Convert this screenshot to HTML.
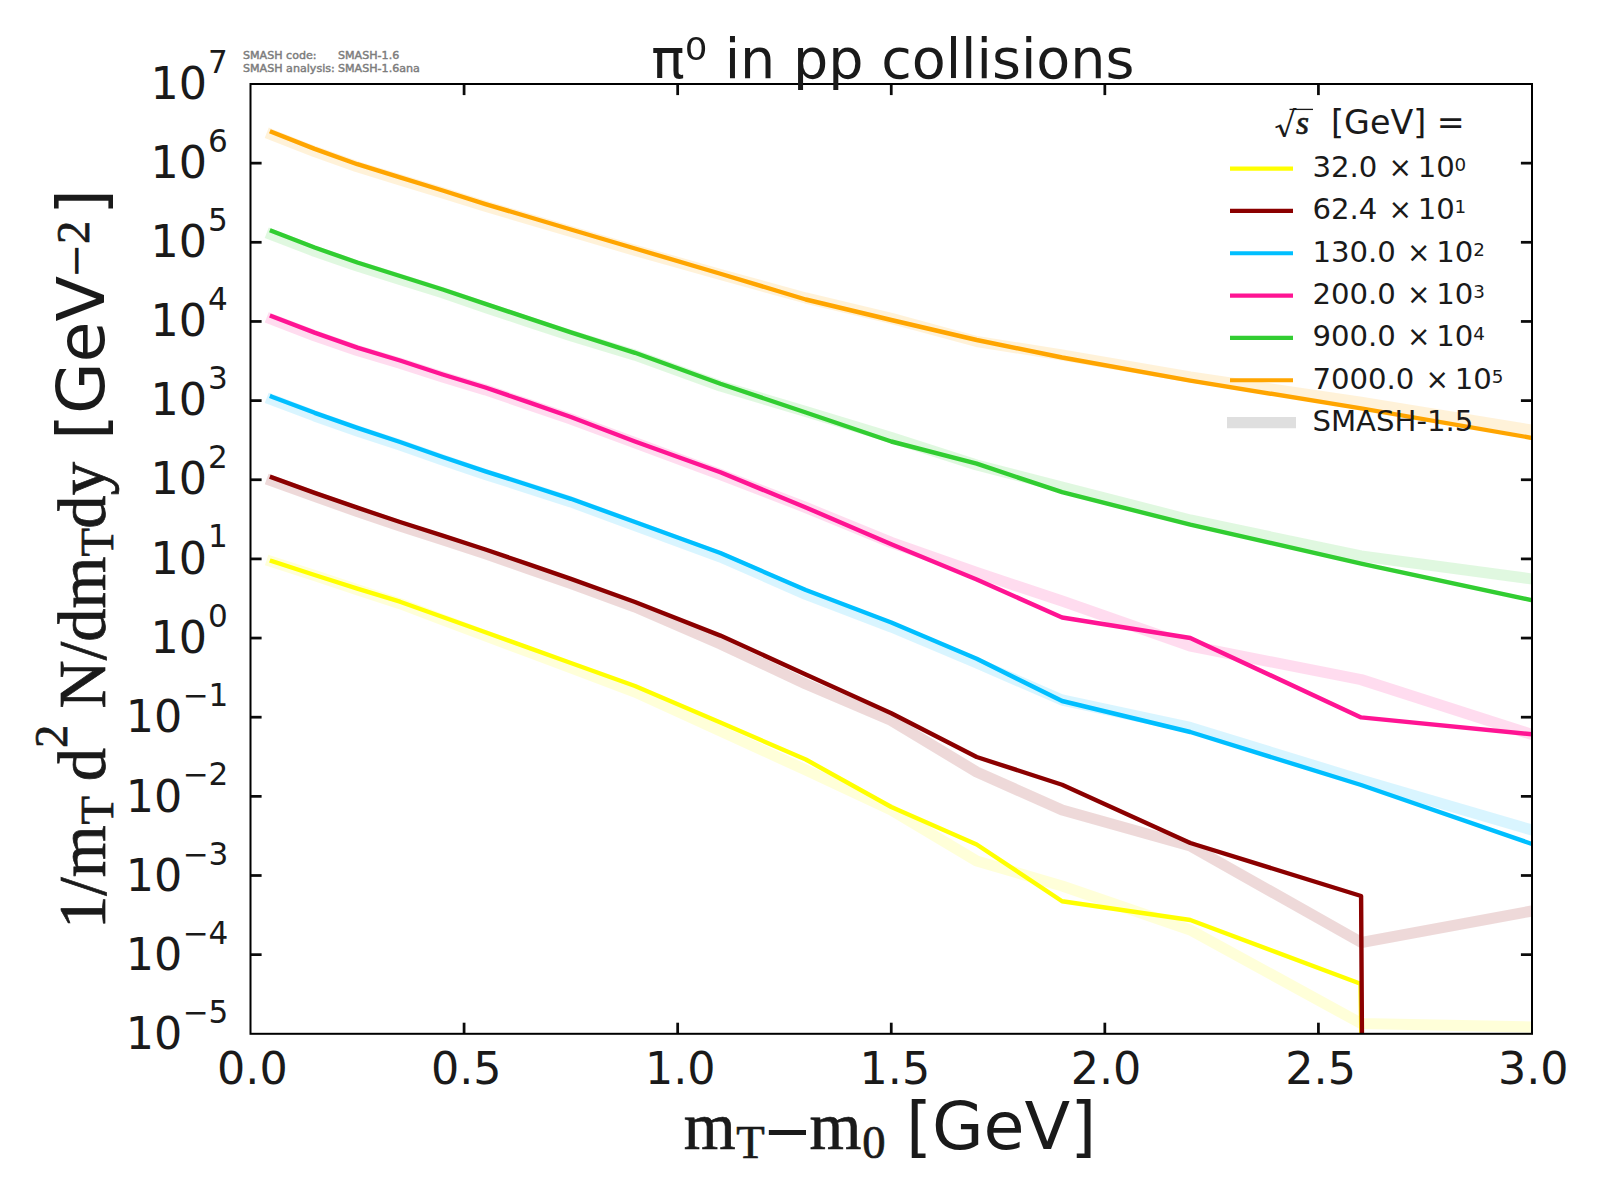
<!DOCTYPE html>
<html><head><meta charset="utf-8"><title>pi0 in pp collisions</title>
<style>
html,body{margin:0;padding:0;background:#fff;}
svg{display:block;}
text{font-family:"DejaVu Sans","Liberation Sans",sans-serif;fill:#1a1a1a;}
.m{font-family:"Liberation Serif","DejaVu Serif",serif;stroke:#1a1a1a;stroke-width:0.7px;}
.rad{font-family:"DejaVu Math TeX Gyre","DejaVu Serif","DejaVu Sans",serif;}
text{font-kerning:none;}
</style></head><body>
<svg width="1600" height="1200" viewBox="0 0 1600 1200">
<rect width="1600" height="1200" fill="#fff"/>
<defs><clipPath id="ax"><rect x="250.50" y="84.00" width="1281.50" height="949.80"/></clipPath></defs>

<g clip-path="url(#ax)" fill="none" stroke-linejoin="round" stroke-linecap="square">
<polyline points="271.90,561.20 314.60,575.00 357.30,588.60 400.00,601.70 442.70,617.00 485.40,632.30 528.20,647.60 570.90,663.00 635.00,686.00 720.40,722.50 805.80,759.50 891.30,807.00 976.70,844.50 1062.10,901.25 1190.30,920.00 1360.50,983.75 1361.50,1045.00" stroke="#ffff00" stroke-width="4.4"/>
<polyline points="271.90,561.70 314.60,575.50 357.30,589.83 400.00,603.67 442.70,619.70 485.40,635.73 528.20,651.77 570.90,667.90 635.00,692.00 720.40,731.00 805.80,770.00 891.30,810.00 976.70,861.00 1062.10,886.00 1190.30,930.00 1361.10,1023.50 1532.00,1027.00" stroke="#ffff00" stroke-opacity="0.15" stroke-width="11.1"/>
<polyline points="271.90,477.40 314.60,492.90 357.30,507.70 400.00,522.00 442.70,535.70 485.40,549.50 528.20,564.20 570.90,578.90 635.00,602.00 720.40,635.60 805.80,674.40 891.30,713.30 976.70,757.00 1062.10,784.75 1190.30,843.00 1361.10,896.00 1362.00,1045.00" stroke="#8b0000" stroke-width="4.4"/>
<polyline points="271.90,480.90 314.60,496.40 357.30,511.40 400.00,525.90 442.70,539.80 485.40,553.80 528.20,568.70 570.90,583.60 635.00,607.00 720.40,644.00 805.80,684.00 891.30,720.50 976.70,772.00 1062.10,810.00 1190.30,846.00 1361.50,942.50 1532.00,911.00" stroke="#8b0000" stroke-opacity="0.15" stroke-width="11.1"/>
<polyline points="271.90,396.70 314.60,412.80 357.30,427.80 400.00,442.00 442.70,457.00 485.40,471.30 528.20,485.00 570.90,498.80 635.00,522.00 720.40,553.00 805.80,590.00 891.30,622.50 976.70,658.75 1062.10,701.00 1190.30,732.00 1361.10,785.00 1532.00,844.00" stroke="#00bfff" stroke-width="4.4"/>
<polyline points="271.90,399.80 314.60,415.90 357.30,430.90 400.00,445.10 442.70,460.10 485.40,474.40 528.20,488.10 570.90,501.90 635.00,525.50 720.40,557.00 805.80,594.30 891.30,627.00 976.70,663.00 1062.10,700.00 1190.30,727.50 1361.10,780.00 1532.00,830.00" stroke="#00bfff" stroke-opacity="0.15" stroke-width="11.1"/>
<polyline points="271.90,316.25 314.60,332.60 357.30,347.60 400.00,360.50 442.70,374.50 485.40,387.50 528.20,402.20 570.90,417.00 635.00,441.50 720.40,472.25 805.80,507.50 891.30,544.30 976.70,579.50 1062.10,617.50 1190.30,638.00 1361.10,717.40 1532.00,734.30" stroke="#ff1493" stroke-width="4.4"/>
<polyline points="271.90,319.35 314.60,335.70 357.30,350.51 400.00,363.23 442.70,377.04 485.40,389.85 528.20,404.37 570.90,418.98 635.00,442.70 720.40,474.50 805.80,507.50 891.30,542.50 976.70,572.50 1062.10,601.00 1190.30,646.00 1361.10,679.60 1532.00,734.50" stroke="#ff1493" stroke-opacity="0.15" stroke-width="11.1"/>
<polyline points="271.90,231.00 314.60,247.50 357.30,262.50 400.00,276.00 442.70,289.50 485.40,303.80 528.20,318.20 570.90,332.30 635.00,352.80 720.40,383.75 805.80,412.50 891.30,441.50 976.70,463.70 1062.10,492.20 1190.30,524.70 1361.10,563.60 1532.00,600.20" stroke="#32cd32" stroke-width="4.4"/>
<polyline points="271.90,234.70 314.60,251.20 357.30,266.05 400.00,279.41 442.70,292.76 485.40,307.41 528.20,321.77 570.90,335.62 635.00,355.10 720.40,386.00 805.80,411.50 891.30,437.50 976.70,465.00 1062.10,487.00 1190.30,520.00 1361.10,556.00 1532.00,579.00" stroke="#32cd32" stroke-opacity="0.15" stroke-width="11.1"/>
<polyline points="271.90,132.10 314.60,148.90 357.30,164.20 400.00,177.40 442.70,190.50 485.40,204.10 528.20,216.75 570.90,229.50 635.00,248.50 720.40,273.75 805.80,299.50 891.30,320.00 976.70,340.00 1062.10,357.50 1190.30,380.70 1361.10,408.30 1532.00,437.90" stroke="#ffa500" stroke-width="4.4"/>
<polyline points="271.90,134.80 314.60,151.60 357.30,166.78 400.00,179.86 442.70,192.84 485.40,206.32 528.20,218.85 570.90,231.48 635.00,250.30 720.40,274.50 805.80,298.00 891.30,318.30 976.70,341.50 1062.10,355.00 1190.30,377.00 1361.10,402.30 1532.00,430.20" stroke="#ffa500" stroke-opacity="0.15" stroke-width="11.1"/>
</g>
<g stroke="#0b0b0b" stroke-width="2.75" fill="none">
<line x1="464.08" y1="1033.80" x2="464.08" y2="1022.70"/>
<line x1="464.08" y1="84.00" x2="464.08" y2="95.10"/>
<line x1="677.67" y1="1033.80" x2="677.67" y2="1022.70"/>
<line x1="677.67" y1="84.00" x2="677.67" y2="95.10"/>
<line x1="891.25" y1="1033.80" x2="891.25" y2="1022.70"/>
<line x1="891.25" y1="84.00" x2="891.25" y2="95.10"/>
<line x1="1104.83" y1="1033.80" x2="1104.83" y2="1022.70"/>
<line x1="1104.83" y1="84.00" x2="1104.83" y2="95.10"/>
<line x1="1318.42" y1="1033.80" x2="1318.42" y2="1022.70"/>
<line x1="1318.42" y1="84.00" x2="1318.42" y2="95.10"/>
<line x1="250.50" y1="954.65" x2="261.60" y2="954.65"/>
<line x1="1532.00" y1="954.65" x2="1520.90" y2="954.65"/>
<line x1="250.50" y1="875.50" x2="261.60" y2="875.50"/>
<line x1="1532.00" y1="875.50" x2="1520.90" y2="875.50"/>
<line x1="250.50" y1="796.35" x2="261.60" y2="796.35"/>
<line x1="1532.00" y1="796.35" x2="1520.90" y2="796.35"/>
<line x1="250.50" y1="717.20" x2="261.60" y2="717.20"/>
<line x1="1532.00" y1="717.20" x2="1520.90" y2="717.20"/>
<line x1="250.50" y1="638.05" x2="261.60" y2="638.05"/>
<line x1="1532.00" y1="638.05" x2="1520.90" y2="638.05"/>
<line x1="250.50" y1="558.90" x2="261.60" y2="558.90"/>
<line x1="1532.00" y1="558.90" x2="1520.90" y2="558.90"/>
<line x1="250.50" y1="479.75" x2="261.60" y2="479.75"/>
<line x1="1532.00" y1="479.75" x2="1520.90" y2="479.75"/>
<line x1="250.50" y1="400.60" x2="261.60" y2="400.60"/>
<line x1="1532.00" y1="400.60" x2="1520.90" y2="400.60"/>
<line x1="250.50" y1="321.45" x2="261.60" y2="321.45"/>
<line x1="1532.00" y1="321.45" x2="1520.90" y2="321.45"/>
<line x1="250.50" y1="242.30" x2="261.60" y2="242.30"/>
<line x1="1532.00" y1="242.30" x2="1520.90" y2="242.30"/>
<line x1="250.50" y1="163.15" x2="261.60" y2="163.15"/>
<line x1="1532.00" y1="163.15" x2="1520.90" y2="163.15"/>
</g>
<rect x="250.50" y="84.00" width="1281.50" height="949.80" fill="none" stroke="#000" stroke-width="2.0"/>
<text x="217.00" y="1084.0" font-size="44.44">0.0</text>
<text x="430.90" y="1084.0" font-size="44.44">0.5</text>
<text x="644.90" y="1084.0" font-size="44.44">1.0</text>
<text x="859.50" y="1084.0" font-size="44.44">1.5</text>
<text x="1070.70" y="1084.0" font-size="44.44">2.0</text>
<text x="1285.25" y="1084.0" font-size="44.44">2.5</text>
<text x="1497.90" y="1084.0" font-size="44.44">3.0</text>
<text x="228.4" y="1022.90" font-size="31.1" text-anchor="end">−5</text>
<text x="182.3" y="1049.00" font-size="44.44" text-anchor="end">10</text>
<text x="228.4" y="943.75" font-size="31.1" text-anchor="end">−4</text>
<text x="182.3" y="969.85" font-size="44.44" text-anchor="end">10</text>
<text x="228.4" y="864.60" font-size="31.1" text-anchor="end">−3</text>
<text x="182.3" y="890.70" font-size="44.44" text-anchor="end">10</text>
<text x="228.4" y="785.45" font-size="31.1" text-anchor="end">−2</text>
<text x="182.3" y="811.55" font-size="44.44" text-anchor="end">10</text>
<text x="228.4" y="706.30" font-size="31.1" text-anchor="end">−1</text>
<text x="182.3" y="732.40" font-size="44.44" text-anchor="end">10</text>
<text x="227.7" y="626.55" font-size="31.1" text-anchor="end">0</text>
<text x="207.0" y="652.65" font-size="44.44" text-anchor="end">10</text>
<text x="227.7" y="547.40" font-size="31.1" text-anchor="end">1</text>
<text x="207.0" y="573.50" font-size="44.44" text-anchor="end">10</text>
<text x="227.7" y="468.25" font-size="31.1" text-anchor="end">2</text>
<text x="207.0" y="494.35" font-size="44.44" text-anchor="end">10</text>
<text x="227.7" y="389.10" font-size="31.1" text-anchor="end">3</text>
<text x="207.0" y="415.20" font-size="44.44" text-anchor="end">10</text>
<text x="227.7" y="309.95" font-size="31.1" text-anchor="end">4</text>
<text x="207.0" y="336.05" font-size="44.44" text-anchor="end">10</text>
<text x="227.7" y="230.80" font-size="31.1" text-anchor="end">5</text>
<text x="207.0" y="256.90" font-size="44.44" text-anchor="end">10</text>
<text x="227.7" y="151.65" font-size="31.1" text-anchor="end">6</text>
<text x="207.0" y="177.75" font-size="44.44" text-anchor="end">10</text>
<text x="227.7" y="72.50" font-size="31.1" text-anchor="end">7</text>
<text x="207.0" y="98.60" font-size="44.44" text-anchor="end">10</text>
<text x="892.9" y="78.4" font-size="55.56" text-anchor="middle">π⁰ in pp collisions</text>
<text x="243" y="59.3" font-size="11.1" fill="#808080" style="fill:#7c7c7c;stroke:#7c7c7c;stroke-width:0.45px">SMASH code:</text>
<text x="338" y="59.3" font-size="11.1" style="fill:#7c7c7c;stroke:#7c7c7c;stroke-width:0.45px">SMASH-1.6</text>
<text x="243" y="72.1" font-size="11.1" style="fill:#7c7c7c;stroke:#7c7c7c;stroke-width:0.45px">SMASH analysis:</text>
<text x="338" y="72.1" font-size="11.1" style="fill:#7c7c7c;stroke:#7c7c7c;stroke-width:0.45px">SMASH-1.6ana</text>
<text x="683.70" y="1149.10" font-size="66.67" class="m">m</text>
<text x="736.26" y="1158.10" font-size="46.67" class="m">T</text>
<text x="762.70" y="1150.80" font-size="59.40">−</text>
<text x="809.60" y="1149.10" font-size="66.67" class="m">m</text>
<text x="862.30" y="1158.00" font-size="46.67" class="m">0</text>
<text x="905.90" y="1148.90" font-size="66.67">[GeV]</text>
<text transform="translate(105.00,929.00) rotate(-90)" font-size="66.67" class="m">1/m</text>
<text transform="translate(112.50,824.60) rotate(-90)" font-size="46.67" class="m">T</text>
<text transform="translate(105.00,781.15) rotate(-90)" font-size="66.67" class="m">d</text>
<text transform="translate(66.90,748.00) rotate(-90)" font-size="46.67" class="m">2</text>
<text transform="translate(105.00,708.50) rotate(-90)" font-size="66.67" class="m">N/dm</text>
<text transform="translate(112.50,556.44) rotate(-90)" font-size="46.67" class="m">T</text>
<text transform="translate(105.00,528.65) rotate(-90)" font-size="66.67" class="m">dy</text>
<text transform="translate(104.30,440.10) rotate(-90)" font-size="66.67">[GeV</text>
<text transform="translate(90.15,277.90) rotate(-90)" font-size="41.50">−</text>
<text transform="translate(89.00,244.00) rotate(-90)" font-size="46.67" class="m">2</text>
<text transform="translate(104.30,215.10) rotate(-90)" font-size="66.67">]</text>
<text x="1272.50" y="134.00" font-size="33.33" class="rad">√</text>
<text x="1296.00" y="133.50" font-size="33.33" class="m" font-style="italic">s</text>
<line x1="1289.5" y1="109.4" x2="1313" y2="109.4" stroke="#1a1a1a" stroke-width="1.3"/>
<text x="1331.10" y="133.50" font-size="33.33">[GeV] =</text>
<line x1="1230" y1="168.60" x2="1293" y2="168.60" stroke="#ffff00" stroke-width="4.17"/>
<text x="1312.40" y="177.00" font-size="29.17">32.0</text>
<text x="1388.40" y="177.00" font-size="28.00">×</text>
<text x="1417.70" y="177.00" font-size="29.17">10</text>
<text x="1454.60" y="171.00" font-size="18.30">0</text>
<line x1="1230" y1="210.93" x2="1293" y2="210.93" stroke="#8b0000" stroke-width="4.17"/>
<text x="1312.40" y="219.33" font-size="29.17">62.4</text>
<text x="1388.40" y="219.33" font-size="28.00">×</text>
<text x="1417.70" y="219.33" font-size="29.17">10</text>
<text x="1454.60" y="213.33" font-size="18.30">1</text>
<line x1="1230" y1="253.26" x2="1293" y2="253.26" stroke="#00bfff" stroke-width="4.17"/>
<text x="1312.40" y="261.66" font-size="29.17">130.0</text>
<text x="1406.96" y="261.66" font-size="28.00">×</text>
<text x="1436.26" y="261.66" font-size="29.17">10</text>
<text x="1473.16" y="255.66" font-size="18.30">2</text>
<line x1="1230" y1="295.59" x2="1293" y2="295.59" stroke="#ff1493" stroke-width="4.17"/>
<text x="1312.40" y="303.99" font-size="29.17">200.0</text>
<text x="1406.96" y="303.99" font-size="28.00">×</text>
<text x="1436.26" y="303.99" font-size="29.17">10</text>
<text x="1473.16" y="297.99" font-size="18.30">3</text>
<line x1="1230" y1="337.92" x2="1293" y2="337.92" stroke="#32cd32" stroke-width="4.17"/>
<text x="1312.40" y="346.32" font-size="29.17">900.0</text>
<text x="1406.96" y="346.32" font-size="28.00">×</text>
<text x="1436.26" y="346.32" font-size="29.17">10</text>
<text x="1473.16" y="340.32" font-size="18.30">4</text>
<line x1="1230" y1="380.25" x2="1293" y2="380.25" stroke="#ffa500" stroke-width="4.17"/>
<text x="1312.40" y="388.65" font-size="29.17">7000.0</text>
<text x="1425.52" y="388.65" font-size="28.00">×</text>
<text x="1454.82" y="388.65" font-size="29.17">10</text>
<text x="1491.72" y="382.65" font-size="18.30">5</text>
<line x1="1227" y1="422.58" x2="1296" y2="422.58" stroke="#dfdfdf" stroke-width="11.1"/>
<text x="1312.40" y="430.98" font-size="29.17">SMASH-1.5</text>
</svg></body></html>
